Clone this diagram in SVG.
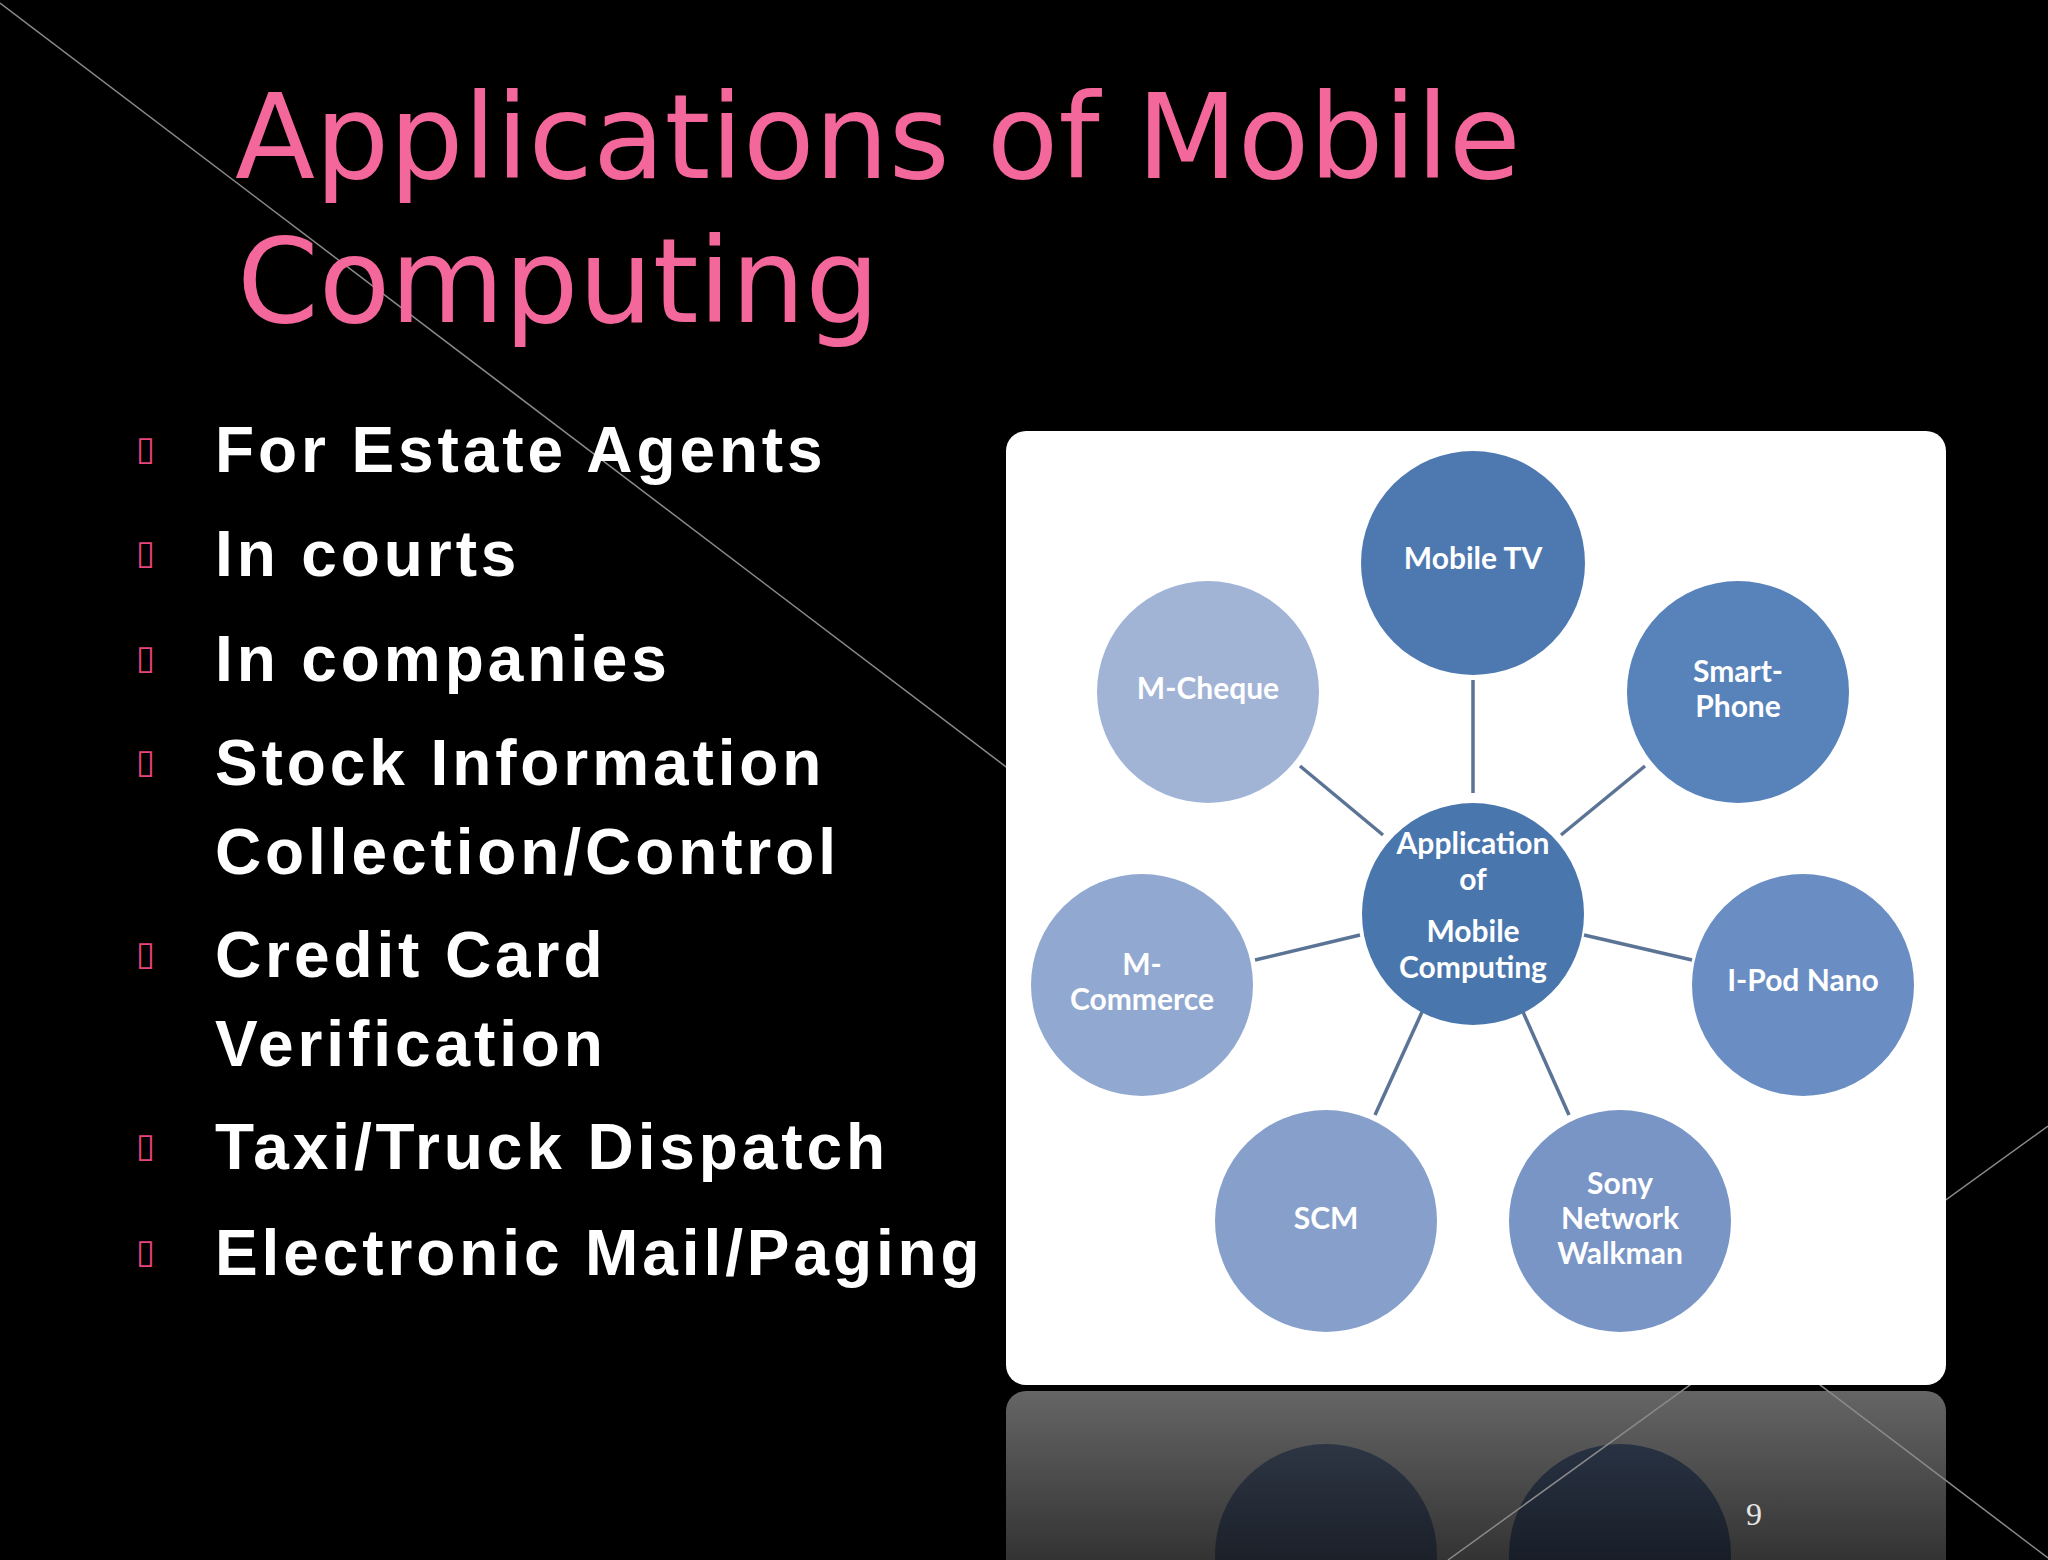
<svg xmlns="http://www.w3.org/2000/svg" width="2048" height="1560" viewBox="0 0 2048 1560">
<defs>
<style>
.title{font-family:"DejaVu Sans",Verdana,sans-serif;font-size:117px;fill:#F4679B;}
.item{font-family:"Liberation Sans",Arial,sans-serif;font-weight:bold;font-size:64px;fill:#FFFFFF;letter-spacing:3.9px;}
.bul{font-family:"DejaVu Sans",sans-serif;font-size:34px;fill:#E8457F;}
.lbl{font-family:Lato,"Liberation Sans",sans-serif;font-weight:bold;font-size:30px;fill:#FFFFFF;text-anchor:middle;}
.conn{stroke:#5B7394;stroke-width:3.5;fill:none;}
.bg{stroke:#8A8A8A;stroke-width:1.5;fill:none;}
.pg{font-family:"Liberation Serif","Times New Roman",serif;font-size:32px;fill:#E6E6E6;}
</style>
<linearGradient id="fade" x1="0" y1="0" x2="0" y2="1">
<stop offset="0" stop-color="#000" stop-opacity="0.6"/>
<stop offset="1" stop-color="#000" stop-opacity="0.8"/>
</linearGradient>
</defs>
<rect x="0" y="0" width="2048" height="1560" fill="#000000"/>

<g id="reflection">
<g transform="translate(0,2776) scale(1,-1)">
<rect x="1006" y="1000" width="940" height="385" rx="20" fill="#FFFFFF"/>
<circle cx="1326" cy="1221" r="111" fill="#87A0CB"/>
<circle cx="1620" cy="1221" r="111" fill="#7895C6"/>
</g>
<rect x="1004" y="1388" width="944" height="172" fill="url(#fade)"/>
</g>

<g id="background-lines">
<line class="bg" x1="0" y1="3" x2="2048" y2="1558"/>
<line class="bg" x1="2048" y1="1126" x2="1448" y2="1560"/>
</g>

<g id="title">
<text class="title" x="235" y="178">Applications of Mobile</text>
<text class="title" x="237" y="322">Computing</text>
</g>

<g id="bullets">
<text class="bul" x="136" y="460">▯</text>
<text class="item" x="215" y="472">For Estate Agents</text>
<text class="bul" x="136" y="564">▯</text>
<text class="item" x="215" y="576">In courts</text>
<text class="bul" x="136" y="669">▯</text>
<text class="item" x="215" y="681">In companies</text>
<text class="bul" x="136" y="773">▯</text>
<text class="item" x="215" y="785">Stock Information</text>
<text class="item" x="215" y="874">Collection/Control</text>
<text class="bul" x="136" y="965">▯</text>
<text class="item" x="215" y="977">Credit Card</text>
<text class="item" x="215" y="1066">Verification</text>
<text class="bul" x="136" y="1157">▯</text>
<text class="item" x="215" y="1169">Taxi/Truck Dispatch</text>
<text class="bul" x="136" y="1263">▯</text>
<text class="item" x="215" y="1275">Electronic Mail/Paging</text>
</g>

<g id="panel">
<rect x="1006" y="431" width="940" height="954" rx="20" fill="#FFFFFF"/>
</g>

<g id="connectors">
<line class="conn" x1="1473" y1="680" x2="1473" y2="793"/>
<line class="conn" x1="1300" y1="766" x2="1383" y2="835"/>
<line class="conn" x1="1645" y1="766" x2="1561" y2="835"/>
<line class="conn" x1="1255" y1="960" x2="1360" y2="935"/>
<line class="conn" x1="1584" y1="935" x2="1692" y2="960"/>
<line class="conn" x1="1422" y1="1012" x2="1375" y2="1115"/>
<line class="conn" x1="1523" y1="1012" x2="1569" y2="1115"/>
</g>

<g id="node-center">
<circle cx="1473" cy="914" r="111" fill="#4A76AE"/>
<text class="lbl" x="1473" y="854">Application</text>
<text class="lbl" x="1473" y="890">of</text>
<text class="lbl" x="1473" y="942">Mobile</text>
<text class="lbl" x="1473" y="978">Computing</text>
</g>
<g id="node-mobile-tv">
<circle cx="1473" cy="563" r="112" fill="#4E79B0"/>
<text class="lbl" x="1473" y="569">Mobile TV</text>
</g>
<g id="node-smart-phone">
<circle cx="1738" cy="692" r="111" fill="#5783BA"/>
<text class="lbl" x="1738" y="682">Smart-</text>
<text class="lbl" x="1738" y="717">Phone</text>
</g>
<g id="node-ipod-nano">
<circle cx="1803" cy="985" r="111" fill="#6A8EC3"/>
<text class="lbl" x="1803" y="991">I-Pod Nano</text>
</g>
<g id="node-sony">
<circle cx="1620" cy="1221" r="111" fill="#7895C6"/>
<text class="lbl" x="1620" y="1194">Sony</text>
<text class="lbl" x="1620" y="1229">Network</text>
<text class="lbl" x="1620" y="1264">Walkman</text>
</g>
<g id="node-scm">
<circle cx="1326" cy="1221" r="111" fill="#87A0CB"/>
<text class="lbl" x="1326" y="1229">SCM</text>
</g>
<g id="node-m-commerce">
<circle cx="1142" cy="985" r="111" fill="#91A9D0"/>
<text class="lbl" x="1142" y="975">M-</text>
<text class="lbl" x="1142" y="1010">Commerce</text>
</g>
<g id="node-m-cheque">
<circle cx="1208" cy="692" r="111" fill="#A2B4D6"/>
<text class="lbl" x="1208" y="699">M-Cheque</text>
</g>

<text class="pg" x="1746" y="1525">9</text>
</svg>
